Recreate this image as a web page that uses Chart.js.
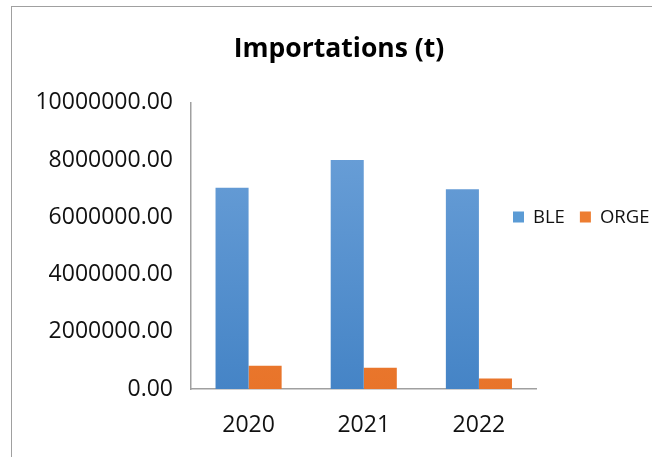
<!DOCTYPE html>
<html>
<head>
<meta charset="utf-8">
<title>Importations (t)</title>
<script src="https://cdn.jsdelivr.net/npm/chart.js@4/dist/chart.umd.min.js"></script>
<style>
    html, body { margin: 0; padding: 0; background: #fff; overflow: hidden; }
    #frame {
        position: absolute; left: 11px; top: 6px;
        width: 700px; height: 500px;
        border: 1.5px solid #a0a0a0;
    }
    #wrap { position: absolute; left: 0; top: 0; width: 652px; height: 457px; }
</style>
</head>
<body>
<div id="frame"></div>
<div id="wrap"><canvas id="chart" width="652" height="457"></canvas></div>
<script>
// Data
const years = ['2020', '2021', '2022'];
const bleValues = [7035000, 8000000, 6980000];
const orgeValues = [810000, 740000, 370000];
const yTicks = [0, 2000000, 4000000, 6000000, 8000000, 10000000];

const FONT = "'Open Sans', sans-serif";

// Vertical gradient for bars, like the Excel fill
function barGradient(ctx, top, bottom) {
    const chart = ctx.chart;
    const area = chart.chartArea;
    if (!area) return bottom;
    const g = chart.ctx.createLinearGradient(0, area.top, 0, area.bottom);
    g.addColorStop(0, top);
    g.addColorStop(1, bottom);
    return g;
}

// Legend on the right, items side by side
const sideLegend = {
    id: 'sideLegend',
    afterDraw(chart) {
        const c = chart.ctx;
        let x = 513;
        const y = 217;
        c.save();
        c.font = '18.5px ' + FONT;
        c.textBaseline = 'middle';
        chart.data.datasets.forEach(ds => {
            c.fillStyle = ds.legendColor;
            c.fillRect(x, y - 5.5, 11, 11);
            x += 20;
            c.fillStyle = '#111';
            c.fillText(ds.label, x, y + 1);
            x += c.measureText(ds.label).width + 15;
        });
        c.restore();
    }
};

const ctx = document.getElementById('chart').getContext('2d');
const chart = new Chart(ctx, {
    type: 'bar',
    data: {
        labels: years,
        datasets: [{
            label: 'BLE',
            data: bleValues,
            legendColor: '#5b9bd5',
            backgroundColor: c => barGradient(c, '#6fa3da', '#4584c6'),
            borderWidth: 0
        }, {
            label: 'ORGE',
            data: orgeValues,
            legendColor: '#ed7d31',
            backgroundColor: c => barGradient(c, '#f48a3e', '#e8742a'),
            borderWidth: 0
        }]
    },
    options: {
        responsive: false,
        animation: false,
        layout: { padding: { left: 26, right: 0, top: 0, bottom: 0 } },
        datasets: {
            bar: { categoryPercentage: 0.574, barPercentage: 1.0 }
        },
        scales: {
            x: {
                grid: { display: false, drawTicks: false },
                border: { display: true, color: '#a0a0a0', width: 1.5 },
                ticks: { color: '#111', font: { family: FONT, size: 23 }, padding: 23 },
                afterFit: s => { s.height = 68; }
            },
            y: {
                min: 0,
                max: 10000000,
                afterBuildTicks: s => { s.ticks = yTicks.map(v => ({ value: v })); },
                grid: { display: false, drawTicks: false },
                border: { display: true, color: '#a0a0a0', width: 1.5 },
                ticks: {
                    color: '#111',
                    font: { family: FONT, size: 23 },
                    padding: 18,
                    callback: v => Number(v).toFixed(2)
                },
                afterFit: s => { s.width = 165; }
            },
            spacer: {
                type: 'linear',
                position: 'right',
                display: true,
                grid: { display: false, drawTicks: false },
                border: { display: false },
                ticks: { display: false },
                afterFit: s => { s.width = 115.5; }
            }
        },
        plugins: {
            legend: { display: false },
            tooltip: { enabled: false },
            title: {
                display: true,
                text: 'Importations (t)',
                color: '#000',
                font: { family: FONT, size: 26.5, weight: 'bold' },
                padding: { top: 34, bottom: 37 }
            }
        }
    },
    plugins: [sideLegend]
});
</script>
</body>
</html>
